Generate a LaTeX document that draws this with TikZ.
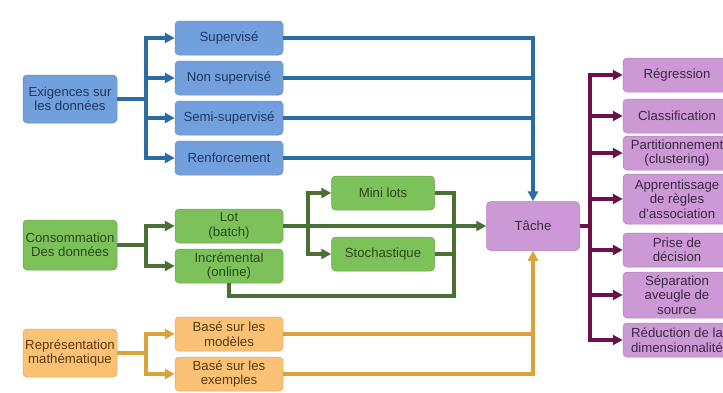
\documentclass[tikz,border=0pt]{standalone}
\usepackage{fontspec}
\setmainfont{Liberation Sans}
\definecolor{BlueBox}{HTML}{72A0DC}
\definecolor{BlueLine}{HTML}{2B6CA3}
\definecolor{BlueText}{HTML}{1F3864}
\definecolor{GreenBox}{HTML}{7CC15A}
\definecolor{GreenLine}{HTML}{4A7034}
\definecolor{GreenText}{HTML}{2C4A1A}
\definecolor{OrangeBox}{HTML}{FBC275}
\definecolor{OrangeLine}{HTML}{D9A23A}
\definecolor{OrangeText}{HTML}{5A3A10}
\definecolor{PurpleBox}{HTML}{CC99D6}
\definecolor{PurpleLine}{HTML}{6B1048}
\definecolor{PurpleText}{HTML}{3A2A40}
\usetikzlibrary{positioning, arrows.meta, calc}

\begin{document}
\begin{tikzpicture}[x=1pt, y=-1pt,
    box/.style={rounded corners=4pt, align=center, inner sep=0pt,
                font=\fontsize{13.2}{14.5}\selectfont, minimum width=108, minimum height=34},
    bluebox/.style={box, fill=BlueBox, draw=BlueBox!85!black, line width=0.5pt, text=BlueText},
    greenbox/.style={box, fill=GreenBox, draw=GreenBox!85!black, line width=0.5pt, text=GreenText},
    orangebox/.style={box, fill=OrangeBox, draw=OrangeBox!85!black, line width=0.5pt, text=OrangeText},
    purplebox/.style={box, fill=PurpleBox, draw=PurpleBox!85!black, line width=0.5pt, text=PurpleText},
    link/.style={line width=3.2pt},
    arr/.style={link, -{Triangle[length=10pt,width=10pt]}}]
  \clip (0,0) rectangle (723,392);
  \fill[white] (0,0) rectangle (723,392);

  % data requirements
  \node[bluebox, minimum width=94, minimum height=48] (exig) at (70,99) {Exigences sur\\les données};
  \node[bluebox] (sup)  at (229,38)  {Supervisé};
  \node[bluebox] (nsup) at (229,78)  {Non supervisé};
  \node[bluebox] (semi) at (229,118) {Semi-supervisé};
  \node[bluebox] (renf) at (229,158) {Renforcement};

  % data consumption
  \node[greenbox, minimum width=94, minimum height=50] (conso) at (70,245) {Consommation\\Des données};
  \node[greenbox] (lot)  at (229,226) {Lot\\(batch)};
  \node[greenbox] (incr) at (229,266) {Incrémental\\(online)};
  \node[greenbox, minimum width=103] (mini)  at (383,193) {Mini lots};
  \node[greenbox, minimum width=103] (stoch) at (383,254) {Stochastique};

  % representation
  \node[orangebox, minimum width=94, minimum height=48] (repr) at (70,353) {Représentation\\mathématique};
  \node[orangebox] (model) at (229,334) {Basé sur les\\modèles};
  \node[orangebox] (exemp) at (229,374) {Basé sur les\\exemples};

  % task
  \node[purplebox, minimum width=93, minimum height=49] (tache) at (533,226) {Tâche};
  \node[purplebox] (reg)   at (677,75)  {Régression};
  \node[purplebox] (cla)   at (677,116) {Classification};
  \node[purplebox] (part)  at (677,153) {Partitionnement\\(clustering)};
  \node[purplebox, minimum height=50] (assoc) at (677,199) {Apprentissage\\de règles\\d'association};
  \node[purplebox] (dec)   at (677,250) {Prise de\\décision};
  \node[purplebox, minimum height=46] (sep) at (677,295) {Séparation\\aveugle de\\source};
  \node[purplebox] (red)   at (677,340) {Réduction de la\\dimensionnalité};

  \coordinate (bx) at (146,99);
  \coordinate (gx) at (146,245);
  \coordinate (ox) at (146,353);
  \coordinate (lb) at (308,226);
  \coordinate (gj) at (454,296);
  \coordinate (px) at (590,226);

  \begin{scope}[BlueLine]
    \draw[link] (exig.east) -- (bx);
    \foreach \n in {sup,nsup,semi,renf}
      \draw[arr] (bx) |- (\n.west);
    \foreach \n in {nsup,semi,renf}
      \draw[link] (\n.east) -- (\n.east -| tache.north);
    \draw[arr] (sup.east) -| (tache.north);
  \end{scope}

  \begin{scope}[GreenLine]
    \draw[link] (conso.east) -- (gx);
    \draw[arr] (gx) |- (lot.west);
    \draw[arr] (gx) |- (incr.west);
    \draw[arr] (lot.east) -- (tache.west);
    \draw[arr] (lb) |- (mini.west);
    \draw[arr] (lb) |- (stoch.west);
    \draw[link] (mini.east) -| (gj) -| (incr.south);
    \draw[link] (stoch.east) -- (stoch.east -| gj);
  \end{scope}

  \begin{scope}[OrangeLine]
    \draw[link] (repr.east) -- (ox);
    \draw[arr] (ox) |- (model.west);
    \draw[arr] (ox) |- (exemp.west);
    \draw[link] (model.east) -- (model.east -| tache.south);
    \draw[arr] (exemp.east) -| (tache.south);
  \end{scope}

  \begin{scope}[PurpleLine]
    \draw[link] (tache.east) -- (px);
    \foreach \n in {reg,cla,part,assoc,dec,sep,red}
      \draw[arr] (px) |- (\n.west);
  \end{scope}
\end{tikzpicture}
\end{document}
